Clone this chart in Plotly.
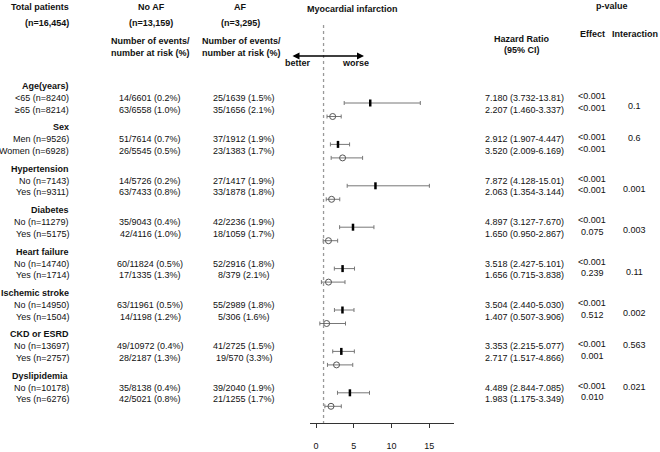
import plotly.graph_objects as go

W, H = 660, 452

# ---- data ----
groups = ["Age(years)", "Sex", "Hypertension", "Diabetes", "Heart failure",
          "Ischemic stroke", "CKD or ESRD", "Dyslipidemia"]

subgroups = [
    ["&lt;65 (n=8240)", "≥65 (n=8214)"],
    ["Men (n=9526)", "Women (n=6928)"],
    ["No (n=7143)", "Yes (n=9311)"],
    ["No (n=11279)", "Yes (n=5175)"],
    ["No (n=14740)", "Yes (n=1714)"],
    ["No (n=14950)", "Yes (n=1504)"],
    ["No (n=13697)", "Yes (n=2757)"],
    ["No (n=10178)", "Yes (n=6276)"],
]

noaf_events = [[14, 63], [51, 26], [14, 63], [35, 42], [60, 17], [63, 14], [49, 28], [35, 42]]
noaf_risk = [[6601, 6558], [7614, 5545], [5726, 7433], [9043, 4116],
             [11824, 1335], [11961, 1198], [10972, 2187], [8138, 5021]]
noaf_pct = [[0.2, 1.0], [0.7, 0.5], [0.2, 0.8], [0.4, 1.0], [0.5, 1.3], [0.5, 1.2], [0.4, 1.3], [0.4, 0.8]]

af_events = [[25, 35], [37, 23], [27, 33], [42, 18], [52, 8], [55, 5], [41, 19], [39, 21]]
af_risk = [[1639, 1656], [1912, 1383], [1417, 1878], [2236, 1059],
           [2916, 379], [2989, 306], [2725, 570], [2040, 1255]]
af_pct = [[1.5, 2.1], [1.9, 1.7], [1.9, 1.8], [1.9, 1.7], [1.8, 2.1], [1.8, 1.6], [1.5, 3.3], [1.9, 1.7]]

hr = [[7.180, 2.207], [2.912, 3.520], [7.872, 2.063], [4.897, 1.650],
      [3.518, 1.656], [3.504, 1.407], [3.353, 2.717], [4.489, 1.983]]
hr_lo = [[3.732, 1.460], [1.907, 2.009], [4.128, 1.354], [3.127, 0.950],
         [2.427, 0.715], [2.440, 0.507], [2.215, 1.517], [2.844, 1.175]]
hr_hi = [[13.81, 3.337], [4.447, 6.169], [15.01, 3.144], [7.670, 2.867],
         [5.101, 3.838], [5.030, 3.906], [5.077, 4.866], [7.085, 3.349]]

p_effect = [["&lt;0.001", "&lt;0.001"], ["&lt;0.001", "&lt;0.001"], ["&lt;0.001", "&lt;0.001"],
            ["&lt;0.001", "0.075"], ["&lt;0.001", "0.239"], ["&lt;0.001", "0.512"],
            ["&lt;0.001", "0.001"], ["&lt;0.001", "0.010"]]
p_interaction = ["0.1", "0.6", "0.001", "0.003", "0.11", "0.002", "0.563", "0.021"]

x_ticks = [0, 5, 10, 15]

# ---- layout (pixels from top) ----
PITCH = 41.4
HEAD_Y = 86
ROW_DY = [12, 23.5]
MARK_Y = 103
MARK_DY = 13.5
inter_slot = ["low", "top", "low", "low", "low", "low", "top", "top"]
TXT = "#111"
FONT = "Liberation Sans, Arial, sans-serif"


def fmt(v):
    return f"{v:.2f}" if v >= 10 else f"{v:.3f}"


def mark_y(g, k):
    return MARK_Y + PITCH * g + MARK_DY * k


fig = go.Figure()

# filled bar for "No", open circle for "Yes"
styles = [dict(symbol="line-ns-open", size=5, color="black", line=dict(width=2.5, color="black")),
          dict(symbol="circle-open", size=6, color="#555", line=dict(width=1, color="#555"))]
for k in range(2):
    xs = [hr[g][k] for g in range(len(groups))]
    ys = [mark_y(g, k) for g in range(len(groups))]
    fig.add_trace(go.Scatter(
        x=xs, y=ys, mode="markers", marker=styles[k],
        error_x=dict(type="data", symmetric=False,
                     array=[hr_hi[g][k] - hr[g][k] for g in range(len(groups))],
                     arrayminus=[hr[g][k] - hr_lo[g][k] for g in range(len(groups))],
                     color="#777", thickness=1, width=2),
        cliponaxis=False, showlegend=False, hoverinfo="skip",
    ))


def txt(s, x, y, anchor="center", bold=False, size=9):
    fig.add_annotation(text=f"<b>{s}</b>" if bold else s, x=x / W, y=y,
                       xref="paper", yref="y", xanchor=anchor, yanchor="middle",
                       showarrow=False, font=dict(size=size, color=TXT, family=FONT))


# column headers
txt("Total patients", 71, 7, "right", True)
txt("(n=16,454)", 71, 23, "right", True)
txt("No AF", 151, 7, bold=True)
txt("(n=13,159)", 151, 23, bold=True)
txt("AF", 240, 7, bold=True)
txt("(n=3,295)", 240, 23, bold=True)
for cx in (150, 241):
    txt("Number of events/", cx, 41, bold=True)
    txt("number at risk (%)", cx, 53, bold=True)
txt("Myocardial infarction", 353, 9, bold=True)
txt("p-value", 612, 6, bold=True)
txt("Hazard Ratio", 522, 39, bold=True)
txt("(95% CI)", 522, 50, bold=True)
txt("Effect", 592, 34, bold=True)
txt("Interaction", 635, 34, bold=True)
txt("better", 298, 63, bold=True)
txt("worse", 355, 63, bold=True)

# better / worse arrow
fig.add_annotation(x=364 / W, y=56, xref="paper", yref="y", ax=-73, ay=0,
                   text="", showarrow=True, arrowhead=2, arrowside="end+start",
                   arrowsize=1, arrowwidth=1.4, arrowcolor="black")

# table rows
for g, name in enumerate(groups):
    hy = HEAD_Y + PITCH * g
    txt(name, 71, hy, "right", True)
    for k in range(2):
        ry = hy + ROW_DY[k]
        txt(subgroups[g][k], 71, ry, "right")
        txt(f"{noaf_events[g][k]}/{noaf_risk[g][k]} ({noaf_pct[g][k]:.1f}%)", 150, ry)
        txt(f"{af_events[g][k]}/{af_risk[g][k]} ({af_pct[g][k]:.1f}%)", 244, ry)
        txt(f"{fmt(hr[g][k])} ({fmt(hr_lo[g][k])}-{fmt(hr_hi[g][k])})", 483, ry, "left")
        txt(p_effect[g][k], 592, ry - 2)
    iy = hy + ROW_DY[0] + (-1 if inter_slot[g] == "top" else 8)
    txt(p_interaction[g], 634, iy)

# reference line at HR = 1
fig.add_shape(type="line", xref="x", yref="y", x0=1, x1=1, y0=25, y1=423,
              line=dict(color="#999", width=1.3, dash="dot"))

fig.update_layout(
    width=W, height=H, margin=dict(l=0, r=0, t=0, b=0),
    paper_bgcolor="white", plot_bgcolor="white",
    font=dict(family=FONT, size=9, color=TXT),
    xaxis=dict(domain=[310 / W, 454 / W], range=[-0.794, 18.27], tickvals=x_ticks,
               showline=True, linecolor="#333", linewidth=1, ticks="outside",
               ticklen=4, tickcolor="#333", tickfont=dict(size=9, color=TXT),
               ticklabelstandoff=10, showgrid=False, zeroline=False),
    yaxis=dict(domain=[(H - 423) / H, 1], range=[423, 0], visible=False),
)

# drop the page's default body margin so the figure sits at the window corner
fig.write_html("out.html", config={"displayModeBar": False},
               post_script="document.body.style.margin='0';")
